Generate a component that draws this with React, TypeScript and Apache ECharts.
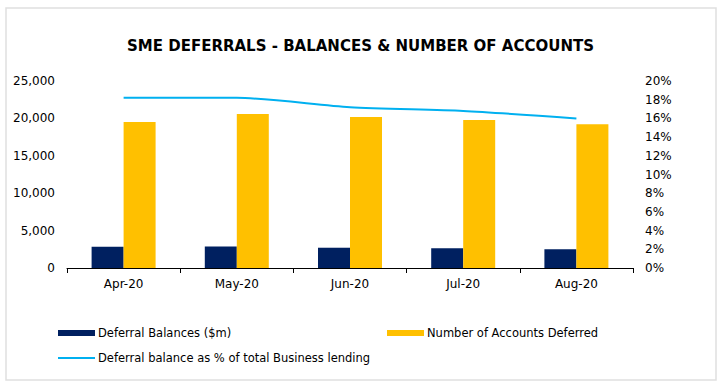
import React, { useEffect, useRef } from "react";
import * as echarts from "echarts";

const categories = ["Apr-20", "May-20", "Jun-20", "Jul-20", "Aug-20"];
const balances = [2850, 2870, 2710, 2630, 2500];
const accounts = [19520, 20590, 20190, 19790, 19210];
const pctLending = [18.2, 18.2, 17.2, 16.8, 16.0];

const FONT = "DejaVu Sans";

export default function App() {
  const ref = useRef<HTMLDivElement>(null);
  useEffect(() => {
    const chart = echarts.init(ref.current!, null, { renderer: "svg" });
    const legendText = {
      fontFamily: FONT,
      fontSize: 11.5,
      color: "#000",
      padding: [0, 0, 0, -2],
    };
    chart.setOption({
      animation: false,
      backgroundColor: "#ffffff",
      textStyle: { fontFamily: FONT },
      title: {
        text: "SME DEFERRALS - BALANCES & NUMBER OF ACCOUNTS",
        left: "center",
        top: 33,
        textStyle: { fontFamily: FONT, fontSize: 15, fontWeight: "bold", color: "#000" },
      },
      graphic: [
        {
          type: "rect",
          shape: { x: 6, y: 8, width: 710, height: 372 },
          style: { fill: "none", stroke: "#e0e0e0", lineWidth: 1.5 },
          silent: true,
        },
      ],
      legend: [
        {
          data: ["Deferral Balances ($m)"],
          left: 53,
          top: 322,
          itemWidth: 37,
          itemHeight: 6,
          textStyle: legendText,
          icon: "rect",
        },
        {
          data: ["Number of Accounts Deferred"],
          left: 382,
          top: 322,
          itemWidth: 37,
          itemHeight: 6,
          textStyle: legendText,
          icon: "rect",
        },
        {
          data: ["Deferral balance as % of total Business lending"],
          left: 53,
          top: 347,
          itemWidth: 37,
          itemHeight: 2,
          textStyle: legendText,
          icon: "rect",
        },
      ],
      grid: { left: 67, right: 88, top: 81, bottom: 124, containLabel: false },
      xAxis: {
        type: "category",
        data: categories,
        axisLine: { lineStyle: { color: "#000", width: 1 } },
        axisTick: { show: true, alignWithLabel: false, length: 5, lineStyle: { color: "#000" } },
        axisLabel: { color: "#000", fontFamily: FONT, fontSize: 12, margin: 10 },
      },
      yAxis: [
        {
          type: "value",
          min: 0,
          max: 25000,
          interval: 5000,
          splitLine: { show: false },
          axisLine: { show: false },
          axisTick: { show: false },
          axisLabel: {
            color: "#000",
            fontFamily: FONT,
            fontSize: 12,
            margin: 12,
            formatter: (v: number) => v.toLocaleString("en-US"),
          },
        },
        {
          type: "value",
          min: 0,
          max: 20,
          interval: 2,
          splitLine: { show: false },
          axisLine: { show: false },
          axisTick: { show: false },
          axisLabel: {
            color: "#000",
            fontFamily: FONT,
            fontSize: 12,
            margin: 12,
            align: "left",
            formatter: (v: number) => v + "%",
          },
        },
      ],
      series: [
        {
          name: "Deferral Balances ($m)",
          type: "bar",
          data: balances,
          barWidth: 32,
          barGap: "0%",
          itemStyle: { color: "#002060" },
        },
        {
          name: "Number of Accounts Deferred",
          type: "bar",
          data: accounts,
          barWidth: 32,
          barGap: "0%",
          itemStyle: { color: "#FFC000" },
        },
        {
          name: "Deferral balance as % of total Business lending",
          type: "line",
          yAxisIndex: 1,
          data: pctLending,
          smooth: 0.25,
          symbol: "none",
          lineStyle: { color: "#00B0F0", width: 2 },
          itemStyle: { color: "#00B0F0" },
        },
      ],
    });
    return () => chart.dispose();
  }, []);
  return (
    <div
      ref={ref}
      style={{ position: "absolute", left: 0, top: 0, width: 721, height: 392 }}
    />
  );
}
